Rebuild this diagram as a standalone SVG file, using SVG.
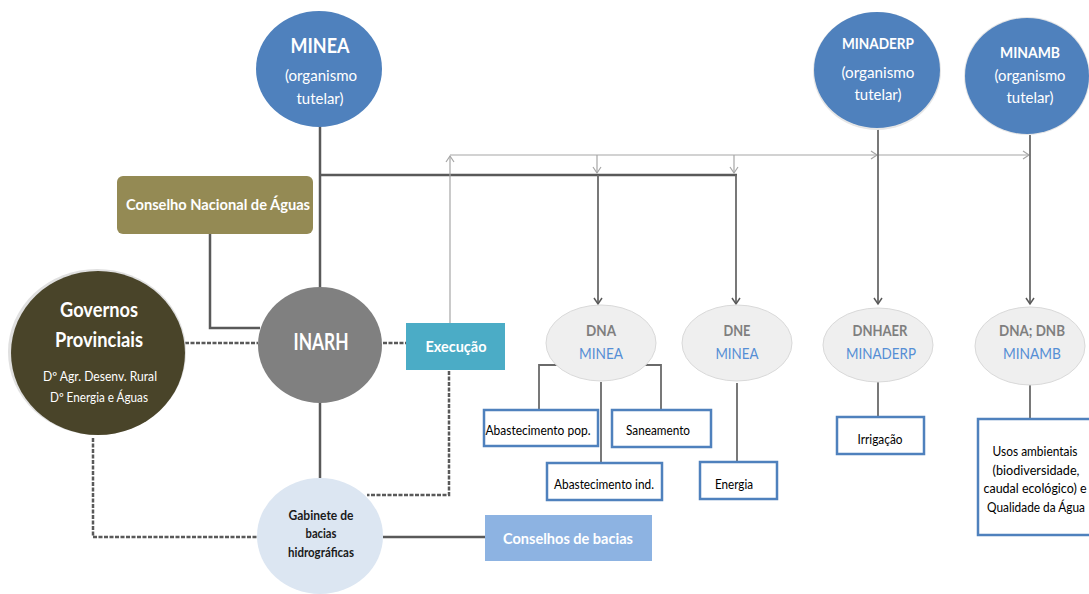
<svg xmlns="http://www.w3.org/2000/svg" width="1089" height="594" viewBox="0 0 1089 594">
  <defs>
    <marker id="arrDark" markerWidth="10" markerHeight="10" refX="8" refY="5" orient="auto" markerUnits="userSpaceOnUse">
      <path d="M2,1 L8,5 L2,9" fill="none" stroke="#595959" stroke-width="1.5"/>
    </marker>
    <marker id="arrLight" markerWidth="10" markerHeight="10" refX="8" refY="5" orient="auto" markerUnits="userSpaceOnUse">
      <path d="M2,1 L8,5 L2,9" fill="none" stroke="#A6A6A6" stroke-width="1.2"/>
    </marker>
  </defs>
  <style>
    text { font-family: Lato, "Liberation Sans", sans-serif; text-anchor: middle; }
    .solid { fill: none; stroke: #595959; stroke-width: 2.5; }
    .dash { fill: none; stroke: #595959; stroke-width: 2.5; stroke-dasharray: 4 1.5; }
    .thin { fill: none; stroke: #A6A6A6; stroke-width: 1.2; }
    .darr { fill: none; stroke: #6A6A6A; stroke-width: 1.8; }
    .minis { fill: #4F81BD; }
    .wt { fill: #FFFFFF; }
    .wtb { fill: #FFFFFF; font-weight: bold; }
    .dn { fill: #EFEFEF; stroke: #D9D9D9; stroke-width: 1; }
    .dnt { fill: #7F7F7F; font-weight: bold; font-size: 16px; }
    .dnm { fill: #558ED5; font-size: 16px; }
    .box { fill: #FFFFFF; stroke: #4F81BD; stroke-width: 2.5; }
    .bt { fill: #000000; font-size: 12.5px; }
  </style>
  <rect width="1089" height="594" fill="#FFFFFF"/>

  <g id="connectors">
    <path class="solid" d="M320,126 V288"/>
    <path class="solid" d="M320,175 H737"/>
    <path class="darr" d="M598,175 V304" marker-end="url(#arrDark)"/>
    <path class="darr" d="M736,175 V304" marker-end="url(#arrDark)"/>
    <path class="solid" d="M210,234 V328 H260"/>
    <path class="dash" d="M185,343 H258"/>
    <path class="dash" d="M383,343 H406"/>
    <path class="dash" d="M449,371 V495 H367"/>
    <path class="dash" d="M93,438 V537 H257"/>
    <path class="solid" d="M383,537 H485"/>
    <path class="solid" d="M320,402 V478"/>
    <path class="thin" d="M450,323 V156" marker-end="url(#arrLight)"/>
    <path class="thin" d="M450,155 H877" marker-end="url(#arrLight)"/>
    <path class="thin" d="M878,155 H1029" marker-end="url(#arrLight)"/>
    <path class="thin" d="M597,155 V173" marker-end="url(#arrLight)"/>
    <path class="thin" d="M734,155 V173" marker-end="url(#arrLight)"/>
    <path class="darr" d="M878,129 V304" marker-end="url(#arrDark)"/>
    <path class="darr" d="M1030,135 V304" marker-end="url(#arrDark)"/>
    <path class="darr" d="M558,365 H539 V410"/>
    <path class="darr" d="M645,365 H661 V410"/>
    <path class="darr" d="M601,382 V463"/>
    <path class="darr" d="M737,383 V462"/>
    <path class="darr" d="M878,382 V417"/>
    <path class="darr" d="M1030,385 V419"/>
  </g>

  <g id="minea">
    <ellipse class="minis" cx="319" cy="69" rx="63" ry="58"/>
    <text class="wtb" x="320" y="53" font-size="20" textLength="59" lengthAdjust="spacingAndGlyphs">MINEA</text>
    <text class="wt" x="321" y="81" font-size="16" textLength="72" lengthAdjust="spacingAndGlyphs">(organismo</text>
    <text class="wt" x="320" y="104" font-size="16" textLength="47" lengthAdjust="spacingAndGlyphs">tutelar)</text>
  </g>

  <g id="minaderp">
    <ellipse cx="877" cy="71" rx="64" ry="59" fill="#E6E6E6"/>
    <ellipse class="minis" cx="877" cy="70" rx="63" ry="58"/>
    <text class="wtb" x="878" y="49" font-size="16" textLength="72" lengthAdjust="spacingAndGlyphs">MINADERP</text>
    <text class="wt" x="878" y="78" font-size="16" textLength="73" lengthAdjust="spacingAndGlyphs">(organismo</text>
    <text class="wt" x="878" y="100" font-size="16" textLength="47" lengthAdjust="spacingAndGlyphs">tutelar)</text>
  </g>

  <g id="minamb">
    <ellipse cx="1027" cy="76" rx="63" ry="59" fill="#E6E6E6"/>
    <ellipse class="minis" cx="1027" cy="76" rx="62" ry="58"/>
    <text class="wtb" x="1030" y="58" font-size="16" textLength="60" lengthAdjust="spacingAndGlyphs">MINAMB</text>
    <text class="wt" x="1030" y="81" font-size="16" textLength="71" lengthAdjust="spacingAndGlyphs">(organismo</text>
    <text class="wt" x="1030" y="103" font-size="16" textLength="47" lengthAdjust="spacingAndGlyphs">tutelar)</text>
  </g>

  <g id="conselho-nacional">
    <rect x="117" y="176" width="196" height="58" rx="6" fill="#948A54"/>
    <text class="wtb" x="218" y="210" font-size="15" textLength="184" lengthAdjust="spacingAndGlyphs">Conselho Nacional de Águas</text>
  </g>

  <g id="governos">
    <ellipse cx="97" cy="352" rx="89" ry="83" fill="#E0E0E0"/>
    <ellipse cx="98" cy="353" rx="87" ry="82" fill="#494429"/>
    <text class="wtb" x="99" y="317" font-size="21" textLength="78" lengthAdjust="spacingAndGlyphs">Governos</text>
    <text class="wtb" x="99" y="347" font-size="21" textLength="88" lengthAdjust="spacingAndGlyphs">Provinciais</text>
    <text class="wt" x="100" y="381" font-size="13" textLength="114" lengthAdjust="spacingAndGlyphs">Dº Agr. Desenv. Rural</text>
    <text class="wt" x="99" y="402" font-size="13" textLength="98" lengthAdjust="spacingAndGlyphs">Dº Energia e Águas</text>
  </g>

  <g id="inarh">
    <ellipse cx="320" cy="345" rx="62" ry="58" fill="#808080"/>
    <text class="wtb" x="321" y="350" font-size="22" textLength="55" lengthAdjust="spacingAndGlyphs">INARH</text>
  </g>

  <g id="execucao">
    <rect x="406" y="323" width="99" height="47" fill="#4BACC6"/>
    <text class="wtb" x="456" y="352" font-size="16" textLength="61" lengthAdjust="spacingAndGlyphs">Execução</text>
  </g>

  <g id="gabinete">
    <ellipse cx="320" cy="536" rx="63" ry="58" fill="#DCE6F2"/>
    <text x="321" y="520" font-size="14" font-weight="bold" fill="#1A1A1A" textLength="65" lengthAdjust="spacingAndGlyphs">Gabinete de</text>
    <text x="321" y="538" font-size="14" font-weight="bold" fill="#1A1A1A" textLength="31" lengthAdjust="spacingAndGlyphs">bacias</text>
    <text x="321" y="557" font-size="14" font-weight="bold" fill="#1A1A1A" textLength="66" lengthAdjust="spacingAndGlyphs">hidrográficas</text>
  </g>

  <g id="conselhos-bacias">
    <rect x="485" y="515" width="167" height="46" fill="#8DB3E2"/>
    <text class="wtb" x="568" y="544" font-size="16" textLength="130" lengthAdjust="spacingAndGlyphs">Conselhos de bacias</text>
  </g>

  <g id="dna-minea">
    <ellipse class="dn" cx="601" cy="343" rx="55" ry="38"/>
    <text class="dnt" x="601" y="336" textLength="30" lengthAdjust="spacingAndGlyphs">DNA</text>
    <text class="dnm" x="601" y="359" textLength="44" lengthAdjust="spacingAndGlyphs">MINEA</text>
  </g>

  <g id="dne-minea">
    <ellipse class="dn" cx="737" cy="343" rx="55" ry="38"/>
    <text class="dnt" x="737" y="336" textLength="27" lengthAdjust="spacingAndGlyphs">DNE</text>
    <text class="dnm" x="737" y="359" textLength="43" lengthAdjust="spacingAndGlyphs">MINEA</text>
  </g>

  <g id="dnhaer">
    <ellipse class="dn" cx="878" cy="345" rx="55" ry="37"/>
    <text class="dnt" x="880" y="336" textLength="55" lengthAdjust="spacingAndGlyphs">DNHAER</text>
    <text class="dnm" x="881" y="359" textLength="70" lengthAdjust="spacingAndGlyphs">MINADERP</text>
  </g>

  <g id="dna-dnb">
    <ellipse class="dn" cx="1030" cy="346" rx="55" ry="39"/>
    <text class="dnt" x="1032" y="336" textLength="66" lengthAdjust="spacingAndGlyphs">DNA; DNB</text>
    <text class="dnm" x="1032" y="359" textLength="58" lengthAdjust="spacingAndGlyphs">MINAMB</text>
  </g>

  <g id="abastecimento-pop">
    <rect class="box" x="484" y="410" width="114" height="36"/>
    <text class="bt" x="538" y="435" textLength="105" lengthAdjust="spacingAndGlyphs">Abastecimento pop.</text>
  </g>

  <g id="saneamento">
    <rect class="box" x="612" y="410" width="99" height="37"/>
    <text class="bt" x="658" y="435" textLength="64" lengthAdjust="spacingAndGlyphs">Saneamento</text>
  </g>

  <g id="abastecimento-ind">
    <rect class="box" x="547" y="463" width="115" height="37"/>
    <text class="bt" x="604" y="489" textLength="100" lengthAdjust="spacingAndGlyphs">Abastecimento ind.</text>
  </g>

  <g id="energia">
    <rect class="box" x="700" y="462" width="77" height="37"/>
    <text class="bt" x="734" y="489" textLength="38" lengthAdjust="spacingAndGlyphs">Energia</text>
  </g>

  <g id="irrigacao">
    <rect class="box" x="837" y="417" width="87" height="37"/>
    <text class="bt" x="880" y="444" textLength="45" lengthAdjust="spacingAndGlyphs">Irrigação</text>
  </g>

  <g id="usos-ambientais">
    <rect class="box" x="978" y="419" width="116" height="116"/>
    <text class="bt" x="1035" y="456" textLength="85" lengthAdjust="spacingAndGlyphs">Usos ambientais</text>
    <text class="bt" x="1036" y="475" textLength="87" lengthAdjust="spacingAndGlyphs">(biodiversidade,</text>
    <text class="bt" x="1035" y="493" textLength="103" lengthAdjust="spacingAndGlyphs">caudal ecológico) e</text>
    <text class="bt" x="1036" y="512" textLength="98" lengthAdjust="spacingAndGlyphs">Qualidade da Água</text>
  </g>
</svg>
